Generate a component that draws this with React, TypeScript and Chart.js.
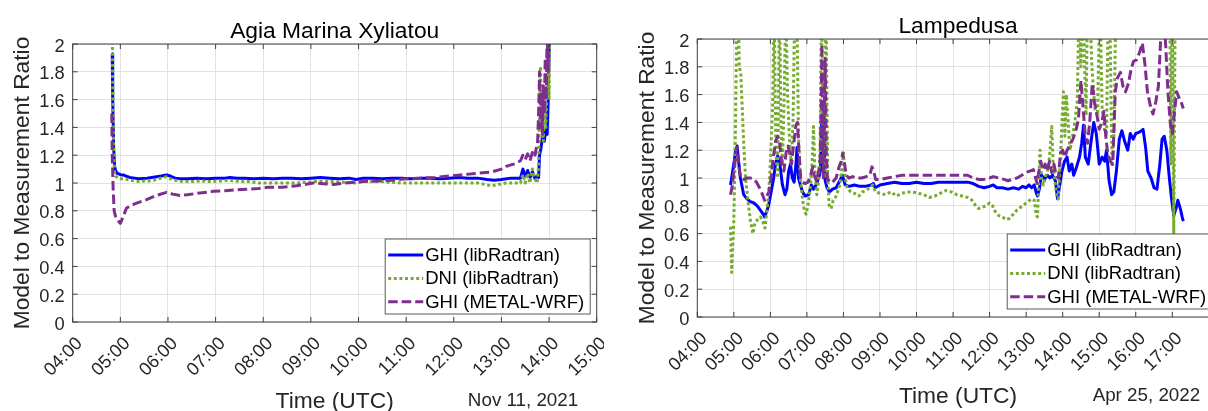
import React, { useEffect, useRef } from 'react';
import { Chart, registerables } from 'chart.js';

Chart.register(...registerables);

const FONT = '"Liberation Sans", Arial, Helvetica, sans-serif';

// Legend entries (same order as the datasets)
const seriesNames = ['GHI (libRadtran)', 'DNI (libRadtran)', 'GHI (METAL-WRF)'];

// ---------- Agia Marina Xyliatou, Nov 11, 2021 (time = decimal hours UTC) ----------
const agiaHourLabels = ['04:00', '05:00', '06:00', '07:00', '08:00', '09:00', '10:00', '11:00', '12:00', '13:00', '14:00', '15:00'];

const agiaGhiLibTime = [4.83, 4.84, 4.86, 4.88, 4.9, 4.93, 4.97, 5.0, 5.06, 5.12, 5.2, 5.3, 5.38, 5.47, 5.56, 5.66, 5.76, 5.86, 5.97, 6.05, 6.15, 6.25, 6.4, 6.6, 6.8, 7.0, 7.2, 7.3, 7.45, 7.6, 7.8, 8.0, 8.2, 8.4, 8.6, 8.8, 9.0, 9.2, 9.4, 9.6, 9.8, 9.95, 10.1, 10.3, 10.5, 10.7, 10.9, 11.1, 11.3, 11.5, 11.7, 11.9, 12.1, 12.3, 12.5, 12.7, 12.85, 13.0, 13.2, 13.4, 13.45, 13.5, 13.55, 13.6, 13.65, 13.7, 13.75, 13.78, 13.8, 13.83, 13.86, 13.9, 13.93, 13.96, 13.98, 14.0, 14.02];
const agiaGhiLib = [1.93, 1.6, 1.25, 1.12, 1.09, 1.07, 1.065, 1.06, 1.058, 1.05, 1.04, 1.035, 1.03, 1.033, 1.035, 1.04, 1.045, 1.05, 1.058, 1.05, 1.035, 1.03, 1.03, 1.035, 1.03, 1.035, 1.035, 1.04, 1.035, 1.035, 1.03, 1.035, 1.03, 1.035, 1.035, 1.03, 1.035, 1.04, 1.035, 1.03, 1.035, 1.025, 1.035, 1.035, 1.03, 1.035, 1.035, 1.03, 1.035, 1.035, 1.03, 1.035, 1.04, 1.035, 1.035, 1.025, 1.02, 1.025, 1.035, 1.035, 1.1, 1.05, 1.09, 1.04, 1.08, 1.035, 1.05, 1.04, 1.2, 1.25, 1.33, 1.3, 1.38, 1.35, 1.6, 1.9, 2.3];

const agiaDniLibTime = [4.83, 4.84, 4.86, 4.88, 4.9, 4.95, 5.0, 5.1, 5.2, 5.3, 5.4, 5.5, 5.6, 5.7, 5.8, 5.9, 5.97, 6.05, 6.15, 6.3, 6.5, 6.7, 6.9, 7.1, 7.3, 7.5, 7.7, 7.9, 8.1, 8.3, 8.5, 8.7, 8.9, 9.1, 9.3, 9.5, 9.7, 9.9, 10.1, 10.3, 10.5, 10.7, 10.9, 11.1, 11.3, 11.5, 11.7, 11.9, 12.1, 12.3, 12.5, 12.65, 12.8, 12.95, 13.1, 13.3, 13.4, 13.45, 13.5, 13.55, 13.6, 13.65, 13.7, 13.75, 13.78, 13.8, 13.82, 13.85, 13.88, 13.9, 13.93, 13.96, 13.98, 14.0, 14.02];
const agiaDniLib = [2.3, 1.7, 1.2, 1.08, 1.05, 1.035, 1.03, 1.03, 1.02, 1.015, 1.01, 1.015, 1.015, 1.02, 1.03, 1.04, 1.045, 1.03, 1.02, 1.01, 1.01, 1.015, 1.01, 1.015, 1.02, 1.01, 1.01, 1.0, 1.0, 1.0, 1.0, 1.0, 1.005, 1.01, 1.01, 1.01, 1.005, 1.0, 1.01, 1.01, 1.01, 1.005, 1.0, 1.0, 1.0, 1.0, 1.0, 1.0, 1.0, 1.0, 1.0, 0.99, 0.98, 0.99, 1.0, 1.0, 1.0, 1.06, 1.0, 1.07, 1.0, 1.1, 1.03, 1.0, 1.12, 1.5, 1.84, 1.4, 1.3, 1.55, 1.4, 1.7, 1.9, 1.6, 2.3];

const agiaGhiWrfTime = [4.82, 4.83, 4.85, 4.87, 4.9, 4.95, 5.0, 5.05, 5.13, 5.3, 5.55, 5.75, 5.97, 6.1, 6.25, 6.4, 6.6, 6.95, 7.2, 7.4, 7.65, 7.9, 8.1, 8.4, 8.7, 9.05, 9.25, 9.47, 9.7, 10.1, 10.4, 10.7, 11.0, 11.3, 11.6, 11.9, 12.2, 12.5, 12.8, 13.0, 13.1, 13.2, 13.3, 13.4, 13.45, 13.5, 13.55, 13.6, 13.65, 13.7, 13.73, 13.76, 13.78, 13.8, 13.82, 13.84, 13.86, 13.88, 13.9, 13.92, 13.94, 13.96, 13.98, 14.0];
const agiaGhiWrf = [1.5, 1.2, 0.95, 0.8, 0.76, 0.73, 0.71, 0.75, 0.82, 0.85, 0.88, 0.91, 0.933, 0.92, 0.91, 0.915, 0.925, 0.94, 0.945, 0.95, 0.955, 0.96, 0.97, 0.97, 0.98, 1.0, 0.995, 0.99, 1.0, 1.01, 1.015, 1.02, 1.03, 1.035, 1.04, 1.05, 1.06, 1.07, 1.08, 1.1, 1.12, 1.13, 1.14, 1.16, 1.2, 1.17, 1.21, 1.16, 1.22, 1.19, 1.25, 1.3, 1.5, 1.8, 1.4, 1.65, 1.35, 1.7, 1.5, 1.9, 1.6, 2.1, 1.8, 2.4];

// ---------- Lampedusa, Apr 25, 2022 (time = decimal hours UTC) ----------
const lampHourLabels = ['04:00', '05:00', '06:00', '07:00', '08:00', '09:00', '10:00', '11:00', '12:00', '13:00', '14:00', '15:00', '16:00', '17:00'];

const lampGhiLibTime = [4.91, 5.0, 5.05, 5.09, 5.13, 5.18, 5.27, 5.36, 5.45, 5.55, 5.64, 5.72, 5.8, 5.84, 5.9, 5.95, 6.02, 6.09, 6.14, 6.2, 6.26, 6.33, 6.4, 6.45, 6.5, 6.55, 6.6, 6.65, 6.7, 6.73, 6.77, 6.82, 6.88, 6.95, 7.05, 7.12, 7.18, 7.25, 7.32, 7.37, 7.4, 7.43, 7.46, 7.5, 7.55, 7.62, 7.7, 7.8, 7.9, 7.97, 8.05, 8.15, 8.3, 8.45, 8.6, 8.75, 8.82, 8.87, 9.0, 9.2, 9.4, 9.6, 9.8, 10.0, 10.2, 10.4, 10.6, 10.8, 11.0, 11.2, 11.4, 11.55, 11.7, 11.85, 12.0, 12.1, 12.2, 12.35, 12.5, 12.65, 12.8, 12.9, 13.0, 13.08, 13.15, 13.22, 13.27, 13.31, 13.36, 13.42, 13.5, 13.58, 13.65, 13.72, 13.8, 13.86, 13.92, 13.98, 14.05, 14.12, 14.18, 14.25, 14.3, 14.38, 14.46, 14.52, 14.57, 14.62, 14.7, 14.77, 14.85, 14.92, 15.0, 15.08, 15.15, 15.2, 15.27, 15.34, 15.4, 15.47, 15.55, 15.62, 15.7, 15.78, 15.85, 15.93, 16.0, 16.1, 16.2, 16.27, 16.33, 16.42, 16.5, 16.58, 16.66, 16.72, 16.78, 16.85, 16.92, 16.98, 17.04, 17.1, 17.15, 17.22, 17.27, 17.3];
const lampGhiLib = [0.95, 1.1, 1.2, 1.23, 1.12, 1.0, 0.88, 0.85, 0.83, 0.82, 0.8, 0.77, 0.74, 0.72, 0.76, 0.8, 0.9, 1.0, 1.1, 1.16, 1.1, 0.95, 0.88, 0.92, 1.05, 1.1, 1.0, 0.97, 1.1, 1.22, 1.0, 0.95, 0.9, 0.87, 0.88, 0.95, 0.92, 0.95, 1.0, 1.05, 1.4, 1.1, 1.5, 0.98, 0.93, 0.9, 0.92, 0.93, 0.98, 1.02, 0.95, 0.94, 0.95, 0.94, 0.94, 0.95, 0.96, 0.93, 0.95, 0.96, 0.97, 0.96, 0.96, 0.97, 0.96, 0.96, 0.97, 0.97, 0.97, 0.97, 0.97, 0.96, 0.94, 0.93, 0.94, 0.95, 0.93, 0.93, 0.92, 0.93, 0.92, 0.94, 0.93, 0.95, 0.93, 0.95, 0.9, 0.87, 0.92, 1.02, 0.99, 1.02, 1.0, 1.02, 0.98, 0.85, 0.95, 1.05, 1.12, 1.15, 1.05, 1.1, 1.02, 1.08, 1.15, 1.25, 1.38, 1.15, 1.1, 1.25, 1.4, 1.32, 1.1, 1.15, 1.12, 1.2, 0.98, 0.88, 0.9, 1.05, 1.28, 1.34, 1.26, 1.2, 1.32, 1.28, 1.32, 1.33, 1.35, 1.22, 1.05, 1.0, 0.93, 0.92, 1.1, 1.28, 1.3, 1.2, 1.0, 0.85, 0.73, 0.78, 0.84, 0.78, 0.72, 0.69];

const lampDniLibTime = [4.91, 4.94, 4.97, 5.0, 5.03, 5.06, 5.09, 5.12, 5.15, 5.19, 5.23, 5.27, 5.32, 5.38, 5.45, 5.52, 5.58, 5.65, 5.73, 5.8, 5.85, 5.92, 5.98, 6.03, 6.07, 6.1, 6.15, 6.2, 6.25, 6.29, 6.33, 6.38, 6.42, 6.47, 6.52, 6.57, 6.62, 6.67, 6.72, 6.77, 6.82, 6.88, 6.93, 6.98, 7.04, 7.1, 7.14, 7.18, 7.22, 7.27, 7.32, 7.36, 7.4, 7.44, 7.48, 7.52, 7.57, 7.61, 7.66, 7.72, 7.78, 7.84, 7.9, 7.95, 8.0, 8.05, 8.1, 8.2, 8.3, 8.42, 8.52, 8.62, 8.72, 8.8, 8.88, 9.0, 9.15, 9.3, 9.45, 9.6, 9.75, 9.9, 10.05, 10.2, 10.35, 10.5, 10.65, 10.8, 10.95, 11.1, 11.25, 11.4, 11.52, 11.62, 11.7, 11.8, 11.9, 12.0, 12.08, 12.15, 12.25, 12.35, 12.45, 12.55, 12.65, 12.75, 12.85, 12.95, 13.05, 13.15, 13.22, 13.28, 13.31, 13.35, 13.38, 13.42, 13.47, 13.52, 13.58, 13.64, 13.7, 13.74, 13.78, 13.83, 13.88, 13.93, 13.98, 14.02, 14.06, 14.1, 14.15, 14.2, 14.27, 14.33, 14.4, 14.45, 14.5, 14.55, 14.6, 14.64, 14.68, 14.73, 14.8, 14.88, 14.95, 15.02, 15.08, 15.14, 15.2, 15.25, 15.3, 15.35, 15.4, 15.46, 15.6, 16.0, 16.4, 16.8, 16.93, 16.96, 17.0, 17.04, 17.08, 17.12];
const lampDniLib = [0.65, 0.32, 0.5, 0.7, 1.1, 1.7, 2.3, 2.2, 1.8, 1.75, 1.5, 1.25, 1.0, 0.85, 0.7, 0.6, 0.68, 0.7, 0.72, 0.68, 0.64, 0.8, 1.0, 1.3, 1.6, 2.3, 1.2, 1.0, 2.3, 1.4, 1.1, 1.6, 2.3, 1.6, 1.3, 1.1, 1.4, 2.3, 2.3, 1.3, 1.0, 0.85, 0.76, 0.74, 0.82, 0.95, 1.1, 1.37, 1.05, 0.88, 0.98, 1.2, 2.3, 1.3, 1.0, 2.3, 1.0, 0.8, 0.78, 0.84, 0.86, 0.9, 0.95, 1.05, 1.18, 1.0, 0.93, 0.9, 0.89, 0.87, 0.9, 0.91, 0.93, 0.95, 0.9, 0.89, 0.88, 0.9, 0.87, 0.89, 0.9, 0.9, 0.89, 0.88, 0.86, 0.87, 0.89, 0.91, 0.9, 0.88, 0.87, 0.86, 0.84, 0.8, 0.78, 0.79, 0.8, 0.82, 0.8, 0.76, 0.73, 0.72, 0.7, 0.71, 0.74, 0.77, 0.79, 0.81, 0.83, 0.85, 0.84, 0.73, 0.72, 1.0, 1.2, 1.0, 0.95, 1.0, 1.05, 1.15, 1.37, 1.1, 1.0, 0.88, 0.85, 1.1, 1.4, 1.62, 1.3, 1.6, 1.4, 1.2, 1.3, 1.4, 1.55, 2.3, 1.8, 2.3, 1.8, 1.45, 2.3, 2.3, 1.8, 1.5, 1.45, 2.3, 1.5, 1.35, 1.3, 2.3, 2.0, 1.08, 1.3, 2.3, 2.4, 2.5, 2.4, 2.3, 2.3, 1.1, 2.3, 0.6, 2.3, 2.3];

const lampGhiWrfTime = [4.91, 4.96, 5.0, 5.06, 5.09, 5.13, 5.18, 5.27, 5.36, 5.45, 5.55, 5.62, 5.7, 5.77, 5.84, 5.9, 5.96, 6.02, 6.08, 6.15, 6.2, 6.26, 6.32, 6.37, 6.43, 6.48, 6.53, 6.58, 6.64, 6.7, 6.74, 6.78, 6.83, 6.88, 6.95, 7.03, 7.1, 7.16, 7.2, 7.26, 7.32, 7.36, 7.39, 7.41, 7.43, 7.45, 7.48, 7.5, 7.53, 7.56, 7.62, 7.7, 7.8, 7.88, 7.94, 7.98, 8.03, 8.08, 8.15, 8.25, 8.35, 8.5, 8.62, 8.72, 8.78, 8.82, 8.88, 9.0, 9.2, 9.4, 9.6, 9.8, 10.0, 10.2, 10.4, 10.6, 10.8, 11.0, 11.2, 11.4, 11.55, 11.7, 11.85, 12.0, 12.1, 12.25, 12.4, 12.5, 12.62, 12.75, 12.88, 13.0, 13.1, 13.2, 13.26, 13.3, 13.35, 13.4, 13.46, 13.52, 13.58, 13.64, 13.7, 13.76, 13.82, 13.88, 13.94, 14.0, 14.06, 14.12, 14.2, 14.28, 14.36, 14.43, 14.5, 14.56, 14.62, 14.68, 14.74, 14.81, 14.87, 14.94, 15.0, 15.07, 15.13, 15.18, 15.23, 15.3, 15.37, 15.44, 15.5, 15.58, 15.65, 15.72, 15.8, 15.87, 15.94, 16.02, 16.1, 16.18, 16.25, 16.32, 16.4, 16.47, 16.55, 16.62, 16.7, 16.76, 16.82, 16.88, 16.95, 17.0, 17.05, 17.12, 17.18, 17.24, 17.3];
const lampGhiWrf = [0.88, 0.95, 1.05, 1.18, 1.22, 1.1, 1.0, 0.99, 1.0, 1.0, 0.99, 0.97, 0.93, 0.89, 0.84, 0.87, 0.9, 1.0, 1.15, 1.27, 1.3, 1.24, 1.08, 1.05, 1.18, 1.23, 1.18, 1.1, 1.25, 1.38, 1.4, 1.2, 1.0, 0.97, 0.96, 0.97, 1.02, 1.08, 1.02, 0.98, 1.05, 1.1, 1.5, 1.96, 1.2, 1.0, 1.6, 1.86, 1.2, 1.0, 0.97, 0.97, 1.0, 1.08, 1.12, 1.18, 1.1, 1.02, 1.0, 1.01, 1.0, 1.0, 1.01, 1.02, 1.08, 1.06, 0.99, 0.99, 1.0, 1.01, 1.02, 1.02, 1.02, 1.02, 1.02, 1.02, 1.02, 1.02, 1.02, 1.02, 1.0, 0.99, 0.99, 1.0, 1.01, 1.0, 0.99, 0.98, 0.99, 1.0, 1.02, 1.04, 1.05, 1.06, 1.0, 0.96, 1.05, 1.12, 1.06, 1.1, 1.05, 1.12, 1.04, 1.1, 1.02, 1.0, 1.18, 1.2, 1.15, 1.2, 1.24, 1.28, 1.34, 1.42, 1.7, 1.5, 1.3, 1.25, 1.4, 1.68, 1.55, 1.45, 1.35, 1.4, 1.48, 1.3, 1.18, 1.12, 1.1, 1.62, 1.72, 1.76, 1.66, 1.62, 1.68, 1.78, 1.84, 1.85, 1.9, 1.97, 1.82, 1.62, 1.52, 1.46, 1.55, 1.66, 2.1, 2.2, 1.95, 1.62, 1.38, 1.32, 1.45, 1.62, 1.58, 1.55, 1.5];

// ---------- styling ----------
const AXIS_COLOR = '#404040';
const GRID_COLOR = '#e2e2e2';
const TEXT_COLOR = '#262626';
const X_AXIS_HEIGHT = 72;

const SERIES_STYLE = [
  { color: '#0000ff', width: 3, dash: [] as number[], order: 3 },
  { color: '#77ac30', width: 3, dash: [3, 2.6], order: 2 },
  { color: '#7e2f8e', width: 3, dash: [9.5, 4], order: 1 },
];

type Series = { t: number[]; v: number[] };

type PanelProps = {
  left: number;
  width: number;
  padding: { left: number; right: number; top: number; bottom: number };
  xMax: number;
  hourLabels: string[];
  title: string;
  date: string;
  series: Series[];
};

function makeDecor(title: string, date: string) {
  return {
    id: 'panelDecor',
    beforeDraw(chart: any) {
      // nudge the rotated hour labels and the ratio labels
      const xs = chart.scales.x.getLabelItems(chart.chartArea);
      for (const it of xs) {
        if (!it.__moved) {
          it.options.translation[0] += 7;
          it.__moved = true;
        }
      }
      const ys = chart.scales.y.getLabelItems(chart.chartArea);
      for (const it of ys) {
        if (!it.__moved) {
          it.options.translation[1] += 2.5;
          it.__moved = true;
        }
      }
    },
    afterDatasetsDraw(chart: any) {
      const { ctx, chartArea: a, scales } = chart;
      ctx.save();
      ctx.strokeStyle = AXIS_COLOR;
      ctx.lineWidth = 1;
      ctx.setLineDash([]);
      // inward tick marks on all four sides
      ctx.beginPath();
      for (const t of scales.x.ticks) {
        const px = scales.x.getPixelForValue(t.value);
        if (px < a.left - 0.5 || px > a.right + 0.5) continue;
        ctx.moveTo(px, a.bottom);
        ctx.lineTo(px, a.bottom - 5);
        ctx.moveTo(px, a.top);
        ctx.lineTo(px, a.top + 5);
      }
      for (const t of scales.y.ticks) {
        const py = scales.y.getPixelForValue(t.value);
        ctx.moveTo(a.left, py);
        ctx.lineTo(a.left + 5, py);
        ctx.moveTo(a.right, py);
        ctx.lineTo(a.right - 5, py);
      }
      ctx.stroke();
      ctx.strokeRect(a.left, a.top, a.right - a.left, a.bottom - a.top);

      // legend box in the lower right corner
      const bw = 205;
      const bh = 75;
      const bx = a.right - 6.5 - bw;
      const by = a.bottom - 8 - bh;
      ctx.fillStyle = '#ffffff';
      ctx.fillRect(bx, by, bw, bh);
      ctx.strokeStyle = '#5a5a5a';
      ctx.strokeRect(bx, by, bw, bh);
      ctx.font = `18.5px ${FONT}`;
      ctx.textAlign = 'left';
      ctx.textBaseline = 'middle';
      chart.data.datasets.forEach((ds: any, i: number) => {
        const ry = by + 16 + i * 23.4;
        ctx.beginPath();
        ctx.strokeStyle = ds.borderColor;
        ctx.lineWidth = ds.borderWidth;
        ctx.setLineDash(ds.borderDash || []);
        ctx.lineCap = 'butt';
        ctx.moveTo(bx + 3, ry);
        ctx.lineTo(bx + 38, ry);
        ctx.stroke();
        ctx.setLineDash([]);
        ctx.fillStyle = '#000000';
        ctx.fillText(ds.label, bx + 40, ry + 1);
      });
      ctx.restore();
    },
    afterDraw(chart: any) {
      const { ctx, chartArea: a } = chart;
      const cx = (a.left + a.right) / 2;
      ctx.save();
      ctx.textBaseline = 'alphabetic';
      ctx.textAlign = 'center';
      ctx.fillStyle = '#000000';
      ctx.font = `22.8px ${FONT}`;
      ctx.fillText(title, cx, a.top - 6.5);

      ctx.fillStyle = TEXT_COLOR;
      ctx.fillText('Time (UTC)', cx, a.bottom + 86);

      ctx.save();
      ctx.translate(a.left - 43.5, (a.top + a.bottom) / 2);
      ctx.rotate(-Math.PI / 2);
      ctx.fillText('Model to Measurement Ratio', 0, 0);
      ctx.restore();

      ctx.font = `18.8px ${FONT}`;
      ctx.textAlign = 'right';
      ctx.fillText(date, a.right - 18.5, a.bottom + 83.5);
      ctx.restore();
    },
  };
}

function Panel(props: PanelProps) {
  const ref = useRef<HTMLCanvasElement | null>(null);

  useEffect(() => {
    const canvas = ref.current;
    if (!canvas) return;
    const { padding, xMax, hourLabels, title, date, series } = props;

    const datasets = series.map((s, i) => ({
      label: seriesNames[i],
      data: s.t.map((x, k) => ({ x, y: s.v[k] })),
      borderColor: SERIES_STYLE[i].color,
      backgroundColor: SERIES_STYLE[i].color,
      borderWidth: SERIES_STYLE[i].width,
      borderDash: SERIES_STYLE[i].dash,
      borderCapStyle: 'butt',
      borderJoinStyle: 'round',
      pointRadius: 0,
      tension: 0,
      fill: false,
      order: SERIES_STYLE[i].order,
    }));

    const chart = new Chart(canvas, {
      type: 'line',
      data: { datasets } as any,
      options: {
        animation: false,
        responsive: false,
        devicePixelRatio: 1,
        events: [],
        layout: { padding },
        plugins: {
          legend: { display: false },
          title: { display: false },
          tooltip: { enabled: false },
        },
        scales: {
          x: {
            type: 'linear',
            position: 'bottom',
            min: 4,
            max: xMax,
            afterFit: (s: any) => {
              s.height = X_AXIS_HEIGHT;
              s.paddingLeft = 0;
              s.paddingRight = 0;
            },
            border: { display: false },
            grid: { color: GRID_COLOR, lineWidth: 1, drawTicks: false },
            ticks: {
              stepSize: 1,
              autoSkip: false,
              includeBounds: false,
              minRotation: 45,
              maxRotation: 45,
              padding: 11,
              color: TEXT_COLOR,
              font: { family: FONT, size: 18.3 },
              callback: (v: any) => {
                const n = Number(v) - 4;
                const idx = Math.round(n);
                return Math.abs(n - idx) < 1e-6 && idx >= 0 && idx < hourLabels.length ? hourLabels[idx] : '';
              },
            },
          },
          y: {
            type: 'linear',
            min: 0,
            max: 2,
            afterFit: (s: any) => {
              s.width = 40;
              s.paddingTop = 0;
              s.paddingBottom = 0;
            },
            border: { display: false },
            grid: { color: GRID_COLOR, lineWidth: 1, drawTicks: false },
            ticks: {
              stepSize: 0.2,
              padding: 8,
              color: TEXT_COLOR,
              font: { family: FONT, size: 18.3 },
              callback: (v: any) => String(Math.round(Number(v) * 10) / 10),
            },
          },
        },
      } as any,
      plugins: [makeDecor(title, date)],
    });

    return () => {
      chart.destroy();
    };
  }, []);

  return (
    <canvas
      ref={ref}
      width={props.width}
      height={411}
      style={{ position: 'absolute', left: props.left, top: 0, width: props.width, height: 411 }}
    />
  );
}

export default function App() {
  return (
    <div
      style={{
        position: 'fixed',
        left: 0,
        top: 0,
        width: 1208,
        height: 411,
        overflow: 'hidden',
        background: '#ffffff',
      }}
    >
      <Panel
        left={0}
        width={604}
        padding={{ left: 32.7, right: 7.3, top: 44, bottom: 411 - 322 - X_AXIS_HEIGHT }}
        xMax={15}
        hourLabels={agiaHourLabels}
        title="Agia Marina Xyliatou"
        date="Nov 11, 2021"
        series={[
          { t: agiaGhiLibTime, v: agiaGhiLib },
          { t: agiaDniLibTime, v: agiaDniLib },
          { t: agiaGhiWrfTime, v: agiaGhiWrf },
        ]}
      />
      <Panel
        left={604}
        width={620}
        padding={{ left: 53.3, right: 5.3, top: 39, bottom: 411 - 317 - X_AXIS_HEIGHT }}
        xMax={18.27}
        hourLabels={lampHourLabels}
        title="Lampedusa"
        date="Apr 25, 2022"
        series={[
          { t: lampGhiLibTime, v: lampGhiLib },
          { t: lampDniLibTime, v: lampDniLib },
          { t: lampGhiWrfTime, v: lampGhiWrf },
        ]}
      />
    </div>
  );
}
